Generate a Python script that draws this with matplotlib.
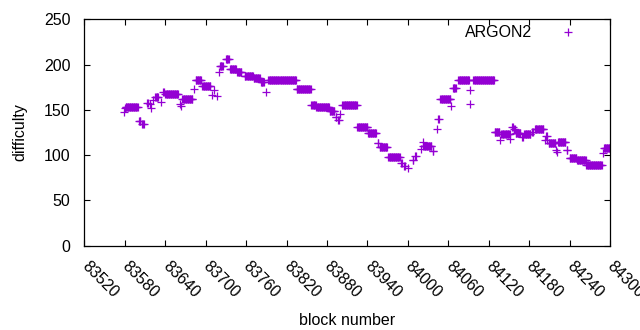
import numpy as np
import matplotlib
matplotlib.use('Agg')
import matplotlib.pyplot as plt
import matplotlib.transforms as mtransforms

plt.rcParams['font.family'] = ['Liberation Sans', 'DejaVu Sans']

run_start = [83578, 83580, 83581, 83601, 83606, 83613, 83617, 83619, 83622, 83625,
             83634, 83637, 83640, 83662, 83663, 83665, 83682, 83685, 83695, 83709,
             83712, 83717, 83719, 83721, 83730, 83736, 83747, 83758, 83771, 83782,
             83790, 83793, 83835, 83857, 83864, 83884, 83893, 83897, 83900, 83903,
             83925, 83941, 83955, 83958, 83971, 83990, 83995, 84000, 84007, 84011,
             84019, 84022, 84023, 84037, 84043, 84045, 84048, 84064, 84067, 84075,
             84092, 84093, 84097, 84129, 84137, 84139, 84152, 84155, 84158, 84160,
             84170, 84173, 84185, 84189, 84203, 84205, 84207, 84209, 84220, 84221,
             84223, 84236, 84240, 84251, 84265, 84289, 84291]
run_end = [83578, 83580, 83599, 83603, 83608, 83614, 83617, 83619, 83622, 83629,
           83634, 83638, 83659, 83662, 83663, 83680, 83682, 83693, 83707, 83709,
           83712, 83717, 83719, 83725, 83734, 83745, 83753, 83770, 83780, 83786,
           83790, 83834, 83856, 83863, 83883, 83891, 83894, 83898, 83900, 83924,
           83940, 83953, 83956, 83969, 83988, 83991, 83996, 84000, 84008, 84012,
           84019, 84022, 84035, 84038, 84043, 84046, 84063, 84064, 84071, 84091,
           84092, 84093, 84128, 84136, 84137, 84151, 84152, 84156, 84159, 84167,
           84171, 84182, 84186, 84201, 84203, 84206, 84207, 84219, 84220, 84221,
           84234, 84237, 84250, 84264, 84288, 84289, 84299]
run_value = [148, 152, 153, 138, 134, 158, 156, 152, 161, 164,
             159, 170, 168, 156, 154, 162, 173, 183, 176, 167,
             172, 165, 192, 199, 206, 195, 192, 188, 185, 181,
             170, 183, 173, 155, 153, 149, 142, 139, 146, 155,
             131, 124, 113, 109, 98, 91, 88, 86, 95, 99,
             107, 114, 110, 104, 129, 140, 162, 154, 174, 183,
             157, 172, 183, 125, 117, 123, 118, 131, 129, 124,
             120, 123, 125, 129, 117, 121, 117, 113, 106, 103,
             114, 106, 97, 95, 89, 102, 108]

x_ticks = list(range(83520, 84301, 60))
y_ticks = [0, 50, 100, 150, 200, 250]

blocks = np.concatenate([np.arange(s, e + 1) for s, e in zip(run_start, run_end)])
difficulty = np.concatenate([np.full(e - s + 1, v) for s, e, v in zip(run_start, run_end, run_value)])

fig = plt.figure(figsize=(6.4, 3.3), dpi=100)
ax = fig.add_axes([0.132, 0.256, 0.821, 0.685])

ax.plot(blocks, difficulty, linestyle='none', marker='+', markersize=5.5,
        markeredgewidth=0.9, color='#9400D3', label='ARGON2')

ax.set_xlim(83520, 84300)
ax.set_ylim(0, 250)
ax.set_xticks(x_ticks)
ax.set_yticks(y_ticks)
ax.tick_params(direction='in', length=4, width=0.8, top=True, right=True, labelsize=11.5)
ax.tick_params(axis='x', pad=9)
ax.tick_params(axis='y', pad=10)
shift = mtransforms.ScaledTranslation(5 / 100, 0, fig.dpi_scale_trans)
for lab in ax.get_xticklabels():
    lab.set_rotation(-45)
    lab.set_ha('left')
    lab.set_va('top')
    lab.set_rotation_mode('anchor')
    lab.set_transform(lab.get_transform() + shift)
for s in ax.spines.values():
    s.set_linewidth(0.9)

ax.set_xlabel('block number', fontsize=11.5, labelpad=9)
ax.set_ylabel('difficulty', fontsize=11.5, labelpad=12)

ax.legend(loc='upper right', bbox_to_anchor=(0.95, 0.975), frameon=False,
          markerfirst=False, fontsize=11.5, handletextpad=1.2,
          borderpad=0, borderaxespad=0)

fig.savefig('out.png', dpi=100)
